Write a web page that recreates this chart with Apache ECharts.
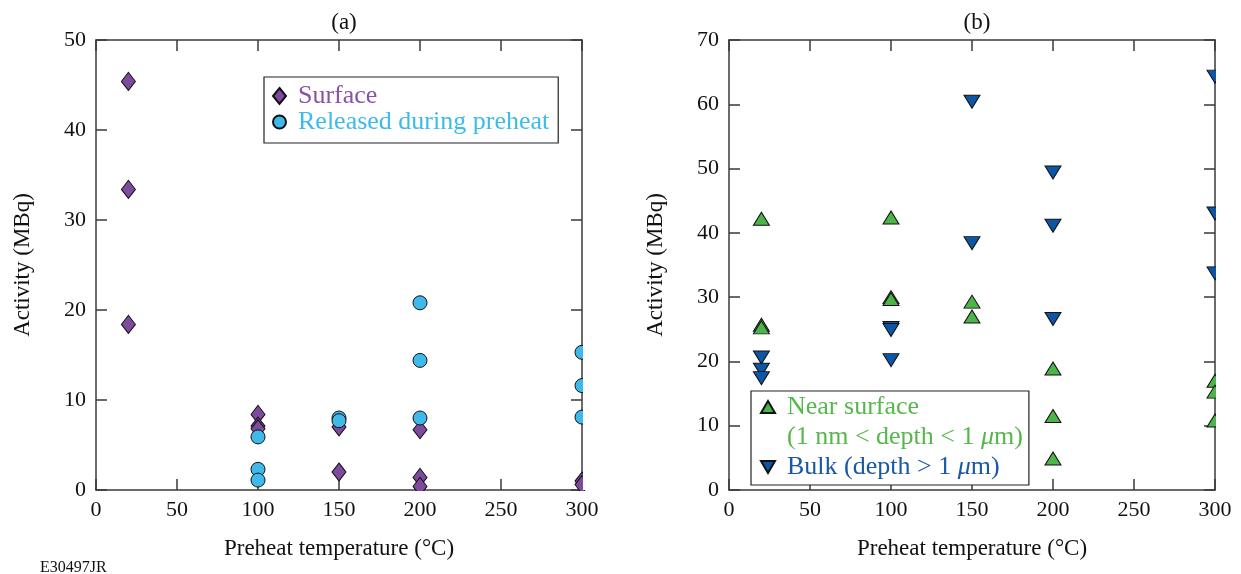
<!DOCTYPE html>
<html>
<head>
<meta charset="utf-8">
<script src="https://cdn.jsdelivr.net/npm/echarts@6/dist/echarts.min.js"></script>
<style>
  html, body { margin: 0; padding: 0; background: #fff; }
  #chart { width: 1241px; height: 574px; }
</style>
</head>
<body>
<div id="chart"></div>
<script>
// panel (a)
const surface = [
  [20, 45.4], [20, 33.4], [20, 18.4],
  [100, 8.4], [100, 7.1], [100, 6.8],
  [150, 7.0], [150, 2.0],
  [200, 6.7], [200, 1.4], [200, 0.4],
  [300, 1.0], [300, 0.6]
];
const released = [
  [100, 5.9], [100, 2.3], [100, 1.1],
  [150, 8.0], [150, 7.7],
  [200, 20.8], [200, 14.4], [200, 8.0],
  [300, 15.3], [300, 11.6], [300, 8.1]
];
// panel (b)
const nearSurface = [
  [20, 42.2], [20, 25.7], [20, 25.3],
  [100, 42.4], [100, 30.0], [100, 29.7],
  [150, 29.3], [150, 27.0],
  [200, 18.9], [200, 11.5], [200, 4.9],
  [300, 17.0], [300, 15.3], [300, 10.8]
];
const bulk = [
  [20, 20.6], [20, 18.7], [20, 17.4],
  [100, 25.2], [100, 24.9], [100, 20.2],
  [150, 60.4], [150, 38.4],
  [200, 49.4], [200, 41.1], [200, 26.6],
  [300, 64.3], [300, 43.0], [300, 33.7]
];

const font = 'Liberation Serif';
const axisColor = '#3a3a3a';

const chart = echarts.init(document.getElementById('chart'));

function xAx(grid, top) {
  return {
    type: 'value', gridIndex: grid, min: 0, max: 300, interval: 50,
    position: top ? 'top' : 'bottom',
    name: top ? '' : 'Preheat temperature (°C)',
    nameLocation: 'middle', nameGap: 47,
    nameTextStyle: { fontFamily: font, fontSize: 23, color: '#111' },
    axisLine: { show: true, onZero: false, lineStyle: { color: axisColor, width: 1.5 } },
    axisTick: { show: true, inside: true, length: 11, lineStyle: { color: axisColor, width: 1.5 } },
    axisLabel: { show: !top, margin: 9, fontFamily: font, fontSize: 22, color: '#111' },
    splitLine: { show: false }
  };
}
function yAx(grid, right, max) {
  return {
    type: 'value', gridIndex: grid, min: 0, max: max, interval: 10,
    position: right ? 'right' : 'left',
    name: right ? '' : 'Activity (MBq)',
    nameLocation: 'middle', nameGap: 62,
    nameTextStyle: { fontFamily: font, fontSize: 23, color: '#111' },
    axisLine: { show: true, onZero: false, lineStyle: { color: axisColor, width: 1.5 } },
    axisTick: { show: true, inside: true, length: 11, lineStyle: { color: axisColor, width: 1.5 } },
    axisLabel: { show: !right, margin: 10, fontFamily: font, fontSize: 22, color: '#111' },
    splitLine: { show: false }
  };
}

// white strips that trim markers overflowing the plot frame
function mask(x, y, w, h) {
  return { type: 'rect', left: x, top: y, z: 100, silent: true,
    shape: { width: w, height: h }, style: { fill: '#fff' } };
}

const richBase = { fontFamily: font, fontSize: 26, padding: [0, 0, 0, 7] };

const option = {
  animation: false,
  backgroundColor: '#fff',
  title: [
    { text: '(a)', left: 339, top: 6, textAlign: 'center',
      textStyle: { fontFamily: font, fontSize: 23, fontWeight: 'normal', color: '#111' } },
    { text: '(b)', left: 972, top: 6, textAlign: 'center',
      textStyle: { fontFamily: font, fontSize: 23, fontWeight: 'normal', color: '#111' } },
    { text: 'E30497JR', left: 35, top: 555,
      textStyle: { fontFamily: font, fontSize: 16, fontWeight: 'normal', color: '#111' } }
  ],
  grid: [
    { left: 96, top: 40, width: 486, height: 450 },
    { left: 729, top: 40, width: 486, height: 450 }
  ],
  xAxis: [xAx(0, false), xAx(0, true), xAx(1, false), xAx(1, true)],
  yAxis: [yAx(0, false, 50), yAx(0, true, 50), yAx(1, false, 70), yAx(1, true, 70)],
  graphic: [
    mask(583, 30, 40, 460),
    mask(90, 491, 500, 7),
    mask(1216, 30, 25, 460),
    mask(720, 491, 500, 7)
  ],
  legend: [
    {
      orient: 'vertical', left: 264, top: 77,
      padding: [6, 9, 8, 8], itemGap: 0, itemWidth: 13, itemHeight: 16,
      backgroundColor: '#fff', borderColor: '#222', borderWidth: 1.2,
      selectedMode: false,
      textStyle: { fontFamily: font, fontSize: 26, lineHeight: 26,
        rich: {
          p: Object.assign({ color: '#8a52a6' }, richBase),
          c: Object.assign({ color: '#3cbbe9' }, richBase)
        }
      },
      formatter: function (name) {
        return (name === 'Surface' ? '{p|' : '{c|') + name + '}';
      },
      data: ['Surface', 'Released during preheat']
    },
    {
      orient: 'vertical', left: 751, top: 391,
      padding: [1, 6, 3, 9], itemGap: 0, itemWidth: 14, itemHeight: 12,
      backgroundColor: '#fff', borderColor: '#222', borderWidth: 1.2,
      selectedMode: false,
      textStyle: { fontFamily: font, fontSize: 26, lineHeight: 30,
        rich: {
          g: Object.assign({ color: '#55b84b' }, richBase),
          gi: Object.assign({}, richBase, { color: '#55b84b', fontStyle: 'italic', padding: 0 }),
          b: Object.assign({ color: '#1a58a6' }, richBase),
          bi: Object.assign({}, richBase, { color: '#1a58a6', fontStyle: 'italic', padding: 0 }),
          g2: Object.assign({}, richBase, { color: '#55b84b', padding: 0 }),
          b2: Object.assign({}, richBase, { color: '#1a58a6', padding: 0 })
        }
      },
      formatter: function (name) {
        const k = name.indexOf('Bulk') === 0 ? 'b' : 'g';
        const parts = name.split('μ');
        let s = '{' + k + '|' + parts[0] + '}';
        for (let i = 1; i < parts.length; i++) {
          s += '{' + k + 'i|μ}{' + k + '2|' + parts[i] + '}';
        }
        return s;
      },
      data: [
        { name: 'Near surface' },
        { name: '(1 nm < depth < 1 μm)', itemStyle: { opacity: 0 } },
        { name: 'Bulk (depth > 1 μm)', icon: 'path://M0,0 L14,0 L7,12 Z' }
      ]
    }
  ],
  series: [
    {
      name: 'Surface', type: 'scatter', xAxisIndex: 0, yAxisIndex: 0,
      symbol: 'diamond', symbolSize: [14, 18], data: surface,
      itemStyle: { color: '#7d4a9d', borderColor: '#111', borderWidth: 1, opacity: 1 }
    },
    {
      name: 'Released during preheat', type: 'scatter', xAxisIndex: 0, yAxisIndex: 0,
      symbol: 'circle', symbolSize: 14, data: released,
      itemStyle: { color: '#3fb9e9', borderColor: '#111', borderWidth: 1, opacity: 1 }
    },
    {
      name: 'Near surface', type: 'scatter', xAxisIndex: 2, yAxisIndex: 2,
      symbol: 'triangle', symbolSize: [16, 13], data: nearSurface,
      itemStyle: { color: '#4cb448', borderColor: '#111', borderWidth: 1, opacity: 1 }
    },
    {
      name: '(1 nm < depth < 1 μm)', type: 'scatter', xAxisIndex: 2, yAxisIndex: 2,
      symbol: 'triangle', data: [],
      itemStyle: { color: '#4cb448' }
    },
    {
      name: 'Bulk (depth > 1 μm)', type: 'scatter', xAxisIndex: 2, yAxisIndex: 2,
      symbol: 'triangle', symbolRotate: 180, symbolSize: [16, 13], data: bulk,
      itemStyle: { color: '#0c56a5', borderColor: '#111', borderWidth: 1, opacity: 1 }
    }
  ]
};

chart.setOption(option);
</script>
</body>
</html>
